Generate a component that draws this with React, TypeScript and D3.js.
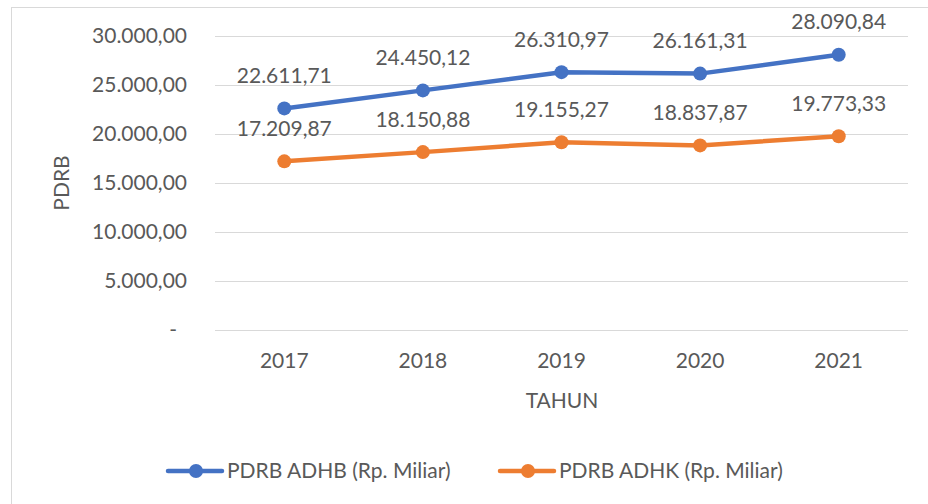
import React, { useEffect, useRef } from 'react';
import * as d3 from 'd3';

const years = ['2017', '2018', '2019', '2020', '2021'];
const adhb = [22611.71, 24450.12, 26310.97, 26161.31, 28090.84];
const adhk = [17209.87, 18150.88, 19155.27, 18837.87, 19773.33];
const yTicks = [0, 5000, 10000, 15000, 20000, 25000, 30000];
const seriesNames = ['PDRB ADHB (Rp. Miliar)', 'PDRB ADHK (Rp. Miliar)'];
const seriesColors = ['#4472C4', '#ED7D31'];

const FONT = 'Lato, "Open Sans", sans-serif';
const FS = 21;
const TEXT = '#595959';

// Indonesian style number: 28.090,84
const fmt = (v: number) => {
  const [i, d] = v.toFixed(2).split('.');
  return i.replace(/\B(?=(\d{3})+(?!\d))/g, '.') + ',' + d;
};

export default function App() {
  const svgRef = useRef<SVGSVGElement>(null);

  useEffect(() => {
    const width = 928;
    const height = 504;
    const svg = d3.select(svgRef.current)
      .attr('width', width)
      .attr('height', height);
    svg.selectAll('*').remove();

    svg.append('rect')
      .attr('x', 11.5).attr('y', 7.5)
      .attr('width', 1000).attr('height', 600)
      .attr('fill', 'white')
      .attr('stroke', '#d9d9d9');

    const x = d3.scaleBand().domain(years).range([215, 908]);
    const y = d3.scaleLinear().domain([0, 30000]).range([330, 36]);
    const cx = (d: string) => x(d)! + x.bandwidth() / 2;

    // gridlines
    svg.append('g')
      .selectAll('line')
      .data(yTicks)
      .join('line')
      .attr('x1', 215).attr('x2', 908)
      .attr('y1', d => Math.round(y(d)) + 0.5)
      .attr('y2', d => Math.round(y(d)) + 0.5)
      .attr('stroke', '#d9d9d9')
      .attr('stroke-width', 1);

    // y tick labels
    svg.append('g')
      .selectAll('text')
      .data(yTicks)
      .join('text')
      .attr('x', d => (d === 0 ? 177 : 187))
      .attr('y', d => y(d) + 7)
      .attr('text-anchor', 'end')
      .attr('font-family', FONT)
      .attr('font-size', FS)
      .attr('fill', TEXT)
      .text(d => (d === 0 ? '-' : fmt(d)));

    // x tick labels
    svg.append('g')
      .selectAll('text')
      .data(years)
      .join('text')
      .attr('x', d => cx(d))
      .attr('y', 368)
      .attr('text-anchor', 'middle')
      .attr('font-family', FONT)
      .attr('font-size', FS)
      .attr('fill', TEXT)
      .text(d => d);

    // axis titles
    svg.append('text')
      .attr('transform', 'translate(69,183) rotate(-90)')
      .attr('text-anchor', 'middle')
      .attr('font-family', FONT)
      .attr('font-size', FS)
      .attr('fill', TEXT)
      .text('PDRB');

    svg.append('text')
      .attr('x', 562).attr('y', 408)
      .attr('text-anchor', 'middle')
      .attr('font-family', FONT)
      .attr('font-size', FS)
      .attr('fill', TEXT)
      .text('TAHUN');

    const line = d3.line<number>()
      .x((_, i) => cx(years[i]))
      .y(d => y(d));

    [adhb, adhk].forEach((vals, s) => {
      const g = svg.append('g');
      g.append('path')
        .datum(vals)
        .attr('fill', 'none')
        .attr('stroke', seriesColors[s])
        .attr('stroke-width', 4.5)
        .attr('stroke-linecap', 'round')
        .attr('stroke-linejoin', 'round')
        .attr('d', line);
      g.selectAll('circle')
        .data(vals)
        .join('circle')
        .attr('cx', (_, i) => cx(years[i]))
        .attr('cy', d => y(d))
        .attr('r', 7)
        .attr('fill', seriesColors[s]);
      g.selectAll('text')
        .data(vals)
        .join('text')
        .attr('x', (_, i) => cx(years[i]))
        .attr('y', d => y(d) - 25.5)
        .attr('text-anchor', 'middle')
        .attr('font-family', FONT)
        .attr('font-size', FS)
        .attr('fill', TEXT)
        .text(d => fmt(d));
    });

    // legend
    const legendX = [168, 500];
    seriesNames.forEach((name, s) => {
      const g = svg.append('g').attr('transform', `translate(${legendX[s]},471)`);
      g.append('line')
        .attr('x1', 0).attr('x2', 54)
        .attr('y1', 0).attr('y2', 0)
        .attr('stroke', seriesColors[s])
        .attr('stroke-width', 4.5)
        .attr('stroke-linecap', 'round');
      g.append('circle')
        .attr('cx', 28).attr('cy', 0).attr('r', 7)
        .attr('fill', seriesColors[s]);
      g.append('text')
        .attr('x', 59).attr('y', 7)
        .attr('font-family', FONT)
        .attr('font-size', FS)
        .attr('fill', TEXT)
        .text(name);
    });
  }, []);

  return (
    <div style={{ position: 'absolute', left: 0, top: 0 }}>
      <svg ref={svgRef}></svg>
    </div>
  );
}
